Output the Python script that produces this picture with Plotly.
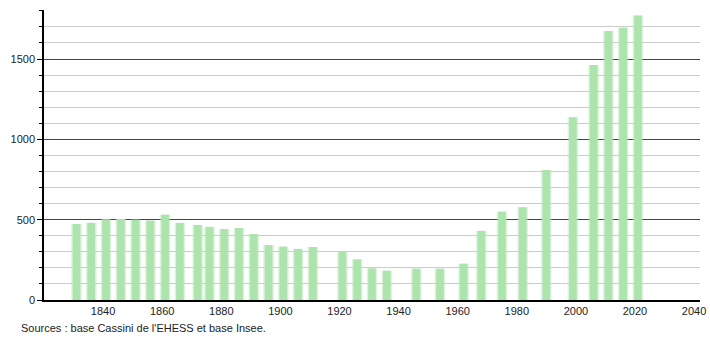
import plotly.graph_objects as go

years = [1831, 1836, 1841, 1846, 1851, 1856, 1861, 1866, 1872, 1876, 1881, 1886,
         1891, 1896, 1901, 1906, 1911, 1921, 1926, 1931, 1936, 1946, 1954, 1962,
         1968, 1975, 1982, 1990, 1999, 2006, 2011, 2016, 2021]
population = [473, 480, 502, 504, 500, 494, 531, 480, 467, 455, 442, 448,
              411, 342, 332, 318, 330, 301, 253, 197, 182, 195, 195, 226,
              430, 550, 577, 809, 1137, 1463, 1675, 1695, 1770]

source_text = "Sources : base Cassini de l'EHESS et base Insee."

fig = go.Figure()
fig.add_trace(go.Bar(
    x=years, y=population, width=3.6,
    marker=dict(color="rgba(180,230,180,0.45)", line=dict(width=0)),
    hoverinfo="skip", showlegend=False,
))
fig.add_trace(go.Bar(
    x=years, y=population, width=2.6,
    marker=dict(color="#ade3ad", line=dict(width=0)),
    showlegend=False,
))

fig.update_layout(
    width=710, height=340,
    margin=dict(l=44, r=10, t=10, b=40, autoexpand=False),
    paper_bgcolor="white", plot_bgcolor="white",
    barmode="overlay",
    font=dict(family="Liberation Sans, Arial, sans-serif", size=11, color="#222"),
    xaxis=dict(
        range=[1820, 2042], tickvals=[1840, 1860, 1880, 1900, 1920, 1940, 1960, 1980, 2000, 2020, 2040],
        showgrid=False, zeroline=False, showline=True, linecolor="black", linewidth=1.5,
        ticks="", ticklen=0, tickfont=dict(size=11, color="#222"), automargin=False,
    ),
    yaxis=dict(
        range=[0, 1805], tickvals=[0, 500, 1000, 1500],
        showgrid=True, gridcolor="#444", gridwidth=1,
        zeroline=False, showline=True, linecolor="black", linewidth=1.5,
        ticks="outside", ticklen=5, tickcolor="black", tickwidth=1,
        tickfont=dict(size=11, color="#222"), automargin=False,
        minor=dict(dtick=100, tick0=0, showgrid=True, gridcolor="#cccccc", gridwidth=1,
                   ticks="outside", ticklen=3, tickcolor="black"),
    ),
    annotations=[dict(
        text=source_text, xref="paper", yref="paper", x=-0.038, y=-0.07,
        xanchor="left", yanchor="top", showarrow=False,
        font=dict(size=11, color="#222"),
    )],
)

fig.write_html("out.html")
